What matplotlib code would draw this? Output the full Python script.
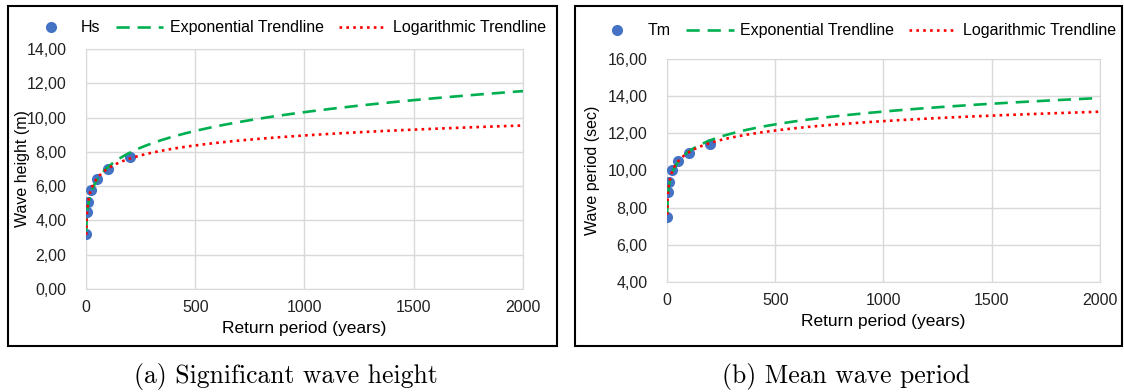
import numpy as np
import matplotlib
matplotlib.use("Agg")
import matplotlib.pyplot as plt
from matplotlib.patches import Rectangle

# return periods (years) and read-off values
return_period = [1, 5, 10, 25, 50, 100, 200]
hs = [3.2, 4.5, 5.1, 5.8, 6.4, 7.0, 7.7]
tm = [7.5, 8.85, 9.4, 10.0, 10.5, 10.95, 11.4]

x_ticks = [0, 500, 1000, 1500, 2000]
hs_yticks = [0, 2, 4, 6, 8, 10, 12, 14]
tm_yticks = [4, 6, 8, 10, 12, 14, 16]

plt.rcParams['font.family'] = ['Liberation Sans', 'DejaVu Sans']

BLUE = '#4472C4'
GREEN = '#00B050'
RED = '#FF0000'
GRID = '#d9d9d9'


def trendlines(x, y, xs):
    # excel style fits: "exponential" (power law) and logarithmic
    lx = np.log(np.array(x, dtype=float))
    ly = np.log(np.array(y, dtype=float))
    p = np.polyfit(lx, ly, 1)
    q = np.polyfit(lx, np.array(y, dtype=float), 1)
    return np.exp(np.polyval(p, np.log(xs))), np.polyval(q, np.log(xs))


def draw(ax, x, y, name, yticks, ylabel, ylab_x):
    xs = np.linspace(1, 2000, 2000)
    pw, lg = trendlines(x, y, xs)
    ax.plot(x, y, 'o', color=BLUE, markersize=8, markeredgewidth=0, label=name, zorder=3)
    ax.plot(xs, pw, '--', color=GREEN, lw=1.9, dashes=(5, 3), label='Exponential Trendline', zorder=4)
    ax.plot(xs, lg, ':', color=RED, lw=1.9, dashes=(1, 1.6), label='Logarithmic Trendline', zorder=5)
    ax.set_xlim(0, 2000)
    ax.set_ylim(yticks[0], yticks[-1])
    ax.set_xticks(x_ticks)
    ax.set_yticks(yticks)
    ax.set_yticklabels([('%.2f' % v).replace('.', ',') for v in yticks])
    ax.grid(True, color=GRID, lw=1)
    ax.set_axisbelow(True)
    for s in ax.spines.values():
        s.set_color(GRID)
    ax.tick_params(length=0, labelsize=11.5, colors='#222222')
    ax.tick_params(axis='y', pad=14)
    ax.tick_params(axis='x', pad=8)
    ax.set_xlabel('Return period (years)', fontsize=12.5, labelpad=4)
    ax.set_ylabel(ylabel, fontsize=11.5)
    ax.yaxis.set_label_coords(ylab_x, 0.5)


fig = plt.figure(figsize=(11.24, 3.92), dpi=100)

ax1 = fig.add_axes([0.0765, 0.2628, 0.3888, 0.612])
draw(ax1, return_period, hs, 'Hs', hs_yticks, 'Wave height (m)', -0.128)
ax1.legend(loc='center', bbox_to_anchor=(0.2549, 0.9286), bbox_transform=fig.transFigure,
           ncol=3, frameon=False, fontsize=11.5, handlelength=3.0, handletextpad=0.4,
           columnspacing=0.95, borderaxespad=0)

ax2 = fig.add_axes([0.5934, 0.2806, 0.3852, 0.569])
draw(ax2, return_period, tm, 'Tm', tm_yticks, 'Wave period (sec)', -0.155)
ax2.legend(loc='center', bbox_to_anchor=(0.7605, 0.921), bbox_transform=fig.transFigure,
           ncol=3, frameon=False, fontsize=11.5, handlelength=3.0, handletextpad=0.4,
           columnspacing=0.95, borderaxespad=0)

# panel frames
fig.patches.append(Rectangle((8 / 1124, 1 - 346 / 392), 549 / 1124, 340 / 392,
                             transform=fig.transFigure, fill=False, lw=1.5, ec='black'))
fig.patches.append(Rectangle((575 / 1124, 1 - 346 / 392), 547 / 1124, 340 / 392,
                             transform=fig.transFigure, fill=False, lw=1.5, ec='black'))

fig.text(286 / 1124, 1 - 377 / 392, '(a) Significant wave height', family='cmr10',
         fontsize=18.5, ha='center', va='center')
fig.text(846 / 1124, 1 - 377 / 392, '(b) Mean wave period', family='cmr10',
         fontsize=18.5, ha='center', va='center')

fig.savefig('out.png', dpi=100)
